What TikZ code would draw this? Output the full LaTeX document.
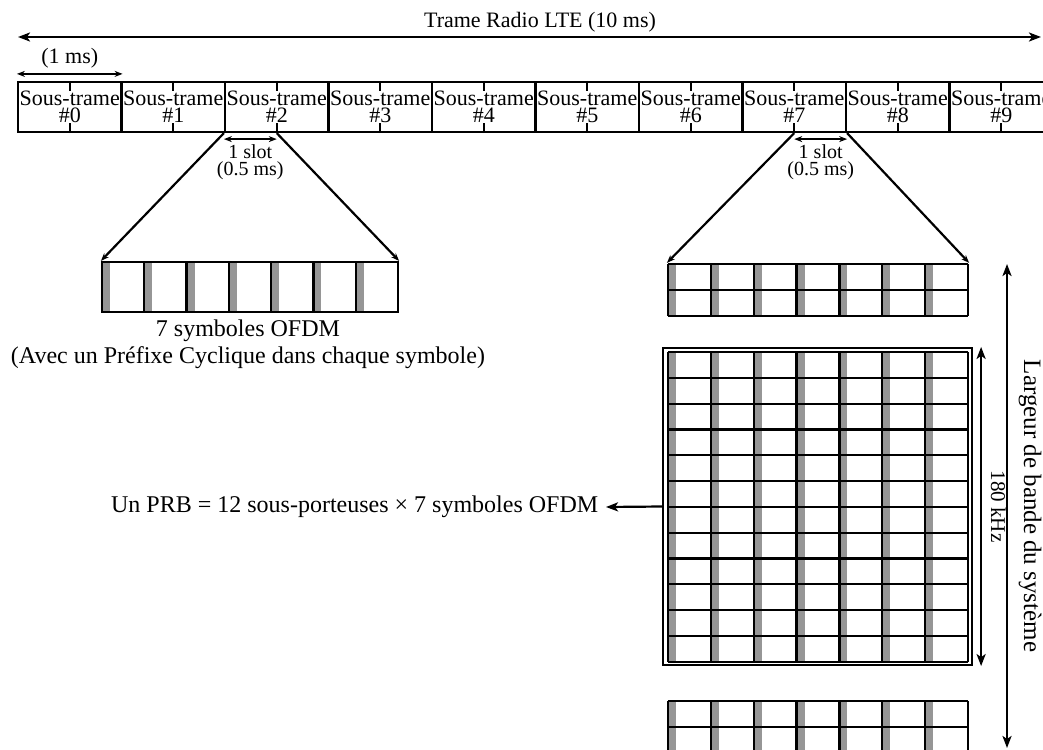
\documentclass[tikz,border=0pt]{standalone}
\usepackage{fontspec}
\setmainfont{Liberation Serif}
\usepackage{tikz}
\usetikzlibrary{arrows.meta}
\definecolor{cpgris}{RGB}{150,150,150}

\begin{document}
\begin{tikzpicture}[x=0.5pt,y=-0.5pt,line width=1.1pt,>={Stealth[length=6pt,width=4.5pt,inset=1.5pt]},font=\fontsize{12}{13.5}\selectfont,
		sousTrame/.style={draw,minimum width=51.75pt,minimum height=25pt,inner sep=0pt,align=center,font=\fontsize{11}{8.5}\selectfont},
		slot/.style={align=center,inner sep=0pt,font=\fontsize{10}{8.5}\selectfont},
		bloc/.style={inner sep=0pt,minimum width=150pt}]
					\useasboundingbox (0,0) rectangle (1043,749);
					
					% trame radio
					\coordinate (tG) at (18,37);
					\coordinate (tD) at (1041,37);
					\draw[<->] (tG) -- (tD);
					\node[font=\fontsize{11}{13}\selectfont] (titre) at (540,22) {Trame Radio LTE (10 ms)};
					
					% sous-trames
					\foreach \i in {0,...,9}{
						\node[sousTrame] (st\i) at ({18+103.5*(\i+0.5)},107) {Sous-trame\\\#\i};
						\draw (st\i.north) -- ++(0,10);
						\draw (st\i.south) -- ++(0,-10);
					}
					\draw[<->,>={Stealth[length=4pt,width=3pt]}] ([yshift=3.5pt]st0.north west) -- ([yshift=3.5pt]st0.north east) node[midway,above=-1pt,font=\fontsize{11}{13}\selectfont]{(1 ms)};
					
					% slots
					\draw[<->,>={Stealth[length=4pt,width=3pt]}] ([yshift=-3pt]st2.south west) -- ([yshift=-3pt]st2.south) node[midway,below=2pt,slot]{1 slot\\(0.5 ms)};
					\draw[<->,>={Stealth[length=4pt,width=3pt]}] ([yshift=-3pt]st7.south) -- ([yshift=-3pt]st7.south east) node[midway,below=2pt,slot]{1 slot\\(0.5 ms)};
					
					% 7 symboles OFDM
					\node[bloc,minimum width=148pt,minimum height=25pt] (symb) at (250,287) {};
					\foreach \k in {0,...,6}
						\fill[cpgris] ({102+296/7*\k},262) rectangle ++(8,50);
					\foreach \k in {0,...,7}
						\draw ({102+296/7*\k},262) -- ++(0,50);
					\draw (102,262) rectangle (398,312);
					\node[align=center] (symbtxt) at (248,344) {7 symboles OFDM\\(Avec un Préfixe Cyclique dans chaque symbole)};
					
					% grilles temps-frequence
					\node[bloc,minimum height=25.8pt] (gHaut) at (818,289.8) {};
					\node[bloc,minimum height=154.8pt] (gPRB) at (818,506.8) {};
					\node[bloc,minimum height=25.8pt] (gBas) at (818,726.8) {};
					\foreach \y/\n in {264/2,352/12,701/2}{
						\foreach \k in {0,...,6}
							\fill[cpgris] ({668+300/7*\k},\y) rectangle ++(8,{25.8*\n});
						\foreach \k in {0,...,7}
							\draw ({668+300/7*\k},\y) -- ++(0,{25.8*\n});
						\foreach \r in {0,...,\n}
							\draw (668,{\y+25.8*\r}) -- (968,{\y+25.8*\r});
					}
					\node[draw,inner sep=0pt,minimum width=154.5pt,minimum height=158.5pt] (prb) at (817.5,506.5) {};
					
					% zooms
					\draw[->,>={Stealth[length=4pt,width=3pt]}] (st2.south west) -- (symb.north west);
					\draw[->,>={Stealth[length=4pt,width=3pt]}] (st2.south) -- (symb.north east);
					\draw[->,>={Stealth[length=4pt,width=3pt]}] (st7.south) -- (gHaut.north west);
					\draw[->,>={Stealth[length=4pt,width=3pt]}] (st7.south east) -- (gHaut.north east);
					
					% PRB
					\node[anchor=east] (prbtxt) at (606,507) {Un PRB = 12 sous-porteuses × 7 symboles OFDM};
					\draw[->] (prb.west) -- (prbtxt.east);
					\draw[<->] ([xshift=4pt]prb.north east) -- ([xshift=4pt]prb.south east) node[midway,sloped,above=1pt,font=\fontsize{10.5}{12}\selectfont]{180 kHz};
					
					% largeur de bande
					\coordinate (lbH) at (1007,264);
					\coordinate (lbB) at (1007,748);
					\draw[<->] (lbH) -- (lbB) node[midway,sloped,above=2pt,font=\fontsize{12.5}{14}\selectfont]{Largeur de bande du système};
				\end{tikzpicture}
\end{document}
